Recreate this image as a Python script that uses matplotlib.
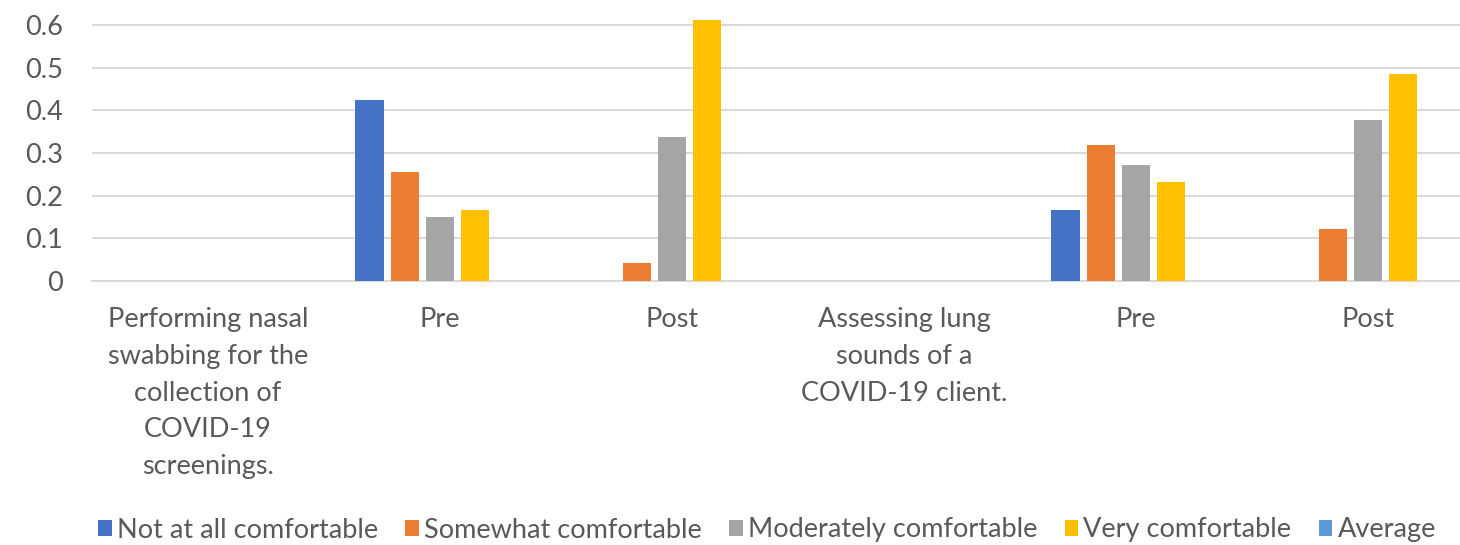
import matplotlib
matplotlib.use("Agg")
import matplotlib.pyplot as plt
from matplotlib.patches import Patch
import numpy as np

plt.rcParams['font.family'] = ['Lato', 'DejaVu Sans']

# Data
categories = [
    "Performing nasal\nswabbing for the\ncollection of\nCOVID-19\nscreenings.",
    "Pre",
    "Post",
    "Assessing lung\nsounds of a\nCOVID-19 client.",
    "Pre",
    "Post",
]
not_at_all = [np.nan, 0.425, 0.0, np.nan, 0.166, 0.0]
somewhat = [np.nan, 0.255, 0.043, np.nan, 0.319, 0.123]
moderately = [np.nan, 0.149, 0.338, np.nan, 0.272, 0.378]
very = [np.nan, 0.167, 0.612, np.nan, 0.231, 0.485]
average = [np.nan] * 6

series_names = ["Not at all comfortable", "Somewhat comfortable",
                "Moderately comfortable", "Very comfortable", "Average"]
series_values = [not_at_all, somewhat, moderately, very, average]
colors = ['#4472C4', '#ED7D31', '#A5A5A5', '#FFC000', '#5B9BD5']

W, H = 1460, 545
fig = plt.figure(figsize=(W / 100, H / 100), dpi=100)
fig.patch.set_facecolor('white')

# axes: left at x=92px, bottom (value 0) at y=281px, running off the right/top edge
ax = fig.add_axes([92 / W, 1 - 281 / H, 1 - 92 / W, 281 / H])

x = np.arange(len(categories))
pitch = 0.152
width = 0.122
for i, (vals, col) in enumerate(zip(series_values, colors)):
    ax.bar(x + (i - 2) * pitch, vals, width=width, color=col, zorder=3)

px_per_tenth = 42.67
ax.set_xlim(-0.5, (W - 208) / 232)
ax.set_ylim(0, 281 / px_per_tenth * 0.1)
ax.set_yticks([0, 0.1, 0.2, 0.3, 0.4, 0.5, 0.6])
ax.set_yticklabels(['0', '0.1', '0.2', '0.3', '0.4', '0.5', '0.6'])
ax.set_xticks(x)
ax.set_xticklabels(categories, linespacing=1.58)

ax.yaxis.grid(True, color='#D9D9D9', linewidth=1.4, zorder=0)
for s in ['top', 'right', 'left']:
    ax.spines[s].set_visible(False)
ax.spines['bottom'].set_color('#D9D9D9')
ax.spines['bottom'].set_linewidth(1.4)
ax.tick_params(axis='both', length=0, colors='#595959', labelsize=19.5)
ax.tick_params(axis='x', pad=19)
ax.tick_params(axis='y', pad=21)
for lab in ax.get_xticklabels():
    lab.set_verticalalignment('top')

handles = [Patch(facecolor=c, edgecolor='none') for c in colors]
leg = fig.legend(handles, series_names, loc='center', ncol=5,
                 bbox_to_anchor=(767 / W, 1 - 530 / H), frameon=False,
                 fontsize=19.5, handlelength=0.5, handleheight=0.5,
                 handletextpad=0.2, columnspacing=1.0, borderaxespad=0)
for t in leg.get_texts():
    t.set_color('#595959')

fig.savefig('out.png', dpi=100, facecolor='white')
